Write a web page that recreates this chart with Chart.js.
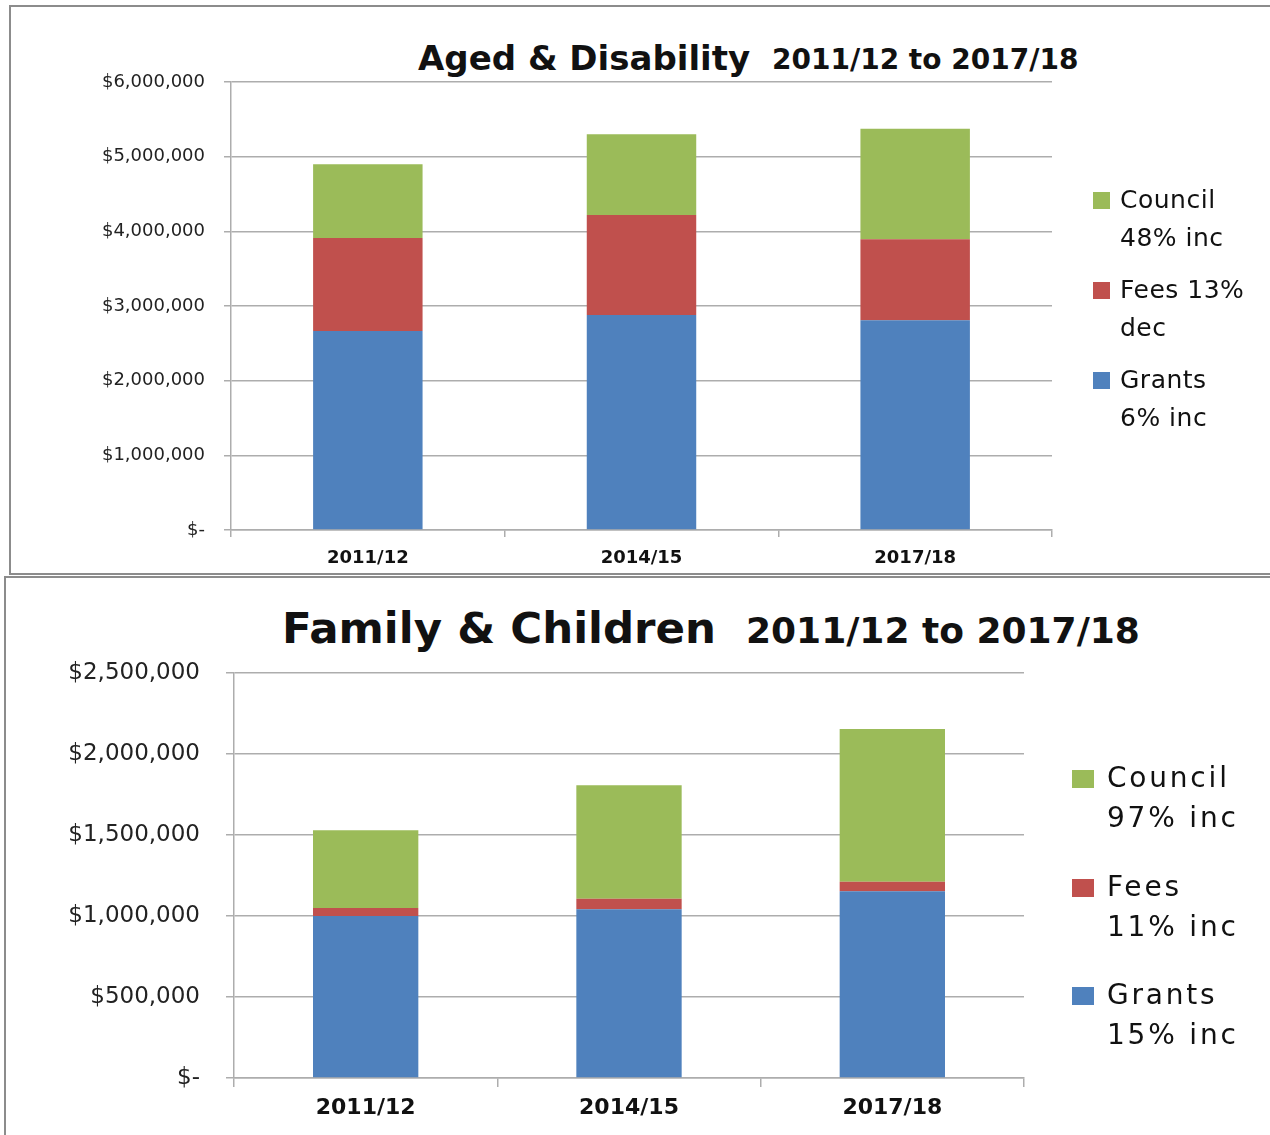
<!DOCTYPE html>
<html>
<head>
<meta charset="utf-8">
<script src="https://cdn.jsdelivr.net/npm/chart.js@4.4.0/dist/chart.umd.min.js"></script>
<style>
  html, body { margin: 0; padding: 0; background: #fff; }
  body { position: relative; width: 1270px; height: 1135px; overflow: hidden; font-family: "DejaVu Sans", sans-serif; color: #111; }
  .panel { position: absolute; border: 2px solid #8c8c8c; box-sizing: border-box; }
  canvas { position: absolute; left: 0; }
  .title { position: absolute; white-space: nowrap; font-weight: bold; line-height: 1; }
  .legend-line { position: absolute; white-space: nowrap; }
  .swatch { position: absolute; }
</style>
</head>
<body>
<div class="panel" style="left:9px; top:5px; width:1290px; height:570px;"></div>
<div class="panel" style="left:4px; top:576px; width:1300px; height:600px;"></div>

<div class="title" style="left:418px; top:41px; font-size:34px;">Aged &amp; Disability</div>
<div class="title" style="left:772px; top:46px; font-size:28px;">2011/12 to 2017/18</div>
<div class="title" style="left:282px; top:607px; font-size:43.5px;">Family &amp; Children</div>
<div class="title" style="left:746px; top:613px; font-size:36px;">2011/12 to 2017/18</div>

<canvas id="topChart" width="1270" height="575" style="top:0px;"></canvas>
<canvas id="bottomChart" width="1270" height="558" style="top:577px;"></canvas>
<div id="topLegend"></div>
<div id="bottomLegend"></div>

<script>
// years on the x axis
const years = ['2011/12', '2014/15', '2017/18'];

// Aged & Disability funding ($)
const agedGrants = [2665000, 2880000, 2810000];
const agedFees = [1245000, 1340000, 1085000];
const agedCouncil = [990000, 1080000, 1480000];
const agedTicks = ['$-', '$1,000,000', '$2,000,000', '$3,000,000', '$4,000,000', '$5,000,000', '$6,000,000'];
const agedLegend = [['Grants', '6% inc'], ['Fees 13%', 'dec'], ['Council', '48% inc']];

// Family & Children funding ($)
const familyGrants = [1000000, 1042000, 1153000];
const familyFees = [50000, 64000, 58000];
const familyCouncil = [480000, 701000, 944000];
const familyTicks = ['$-', '$500,000', '$1,000,000', '$1,500,000', '$2,000,000', '$2,500,000'];
const familyLegend = [['Grants', '15% inc'], ['Fees', '11% inc'], ['Council', '97% inc']];

const seriesNames = ['Grants', 'Fees', 'Council'];
const seriesColors = ['#4F81BD', '#C0504D', '#9BBB59'];

const gridColor = '#adadad';

function makeChart(id, values, opts) {
  return new Chart(document.getElementById(id), {
    type: 'bar',
    data: {
      labels: years,
      datasets: values.map((v, i) => ({
        label: seriesNames[i],
        data: v,
        backgroundColor: seriesColors[i],
        categoryPercentage: 1,
        barPercentage: 0.4
      }))
    },
    options: {
      responsive: false,
      animation: false,
      devicePixelRatio: 1,
      layout: { padding: opts.padding },
      plugins: { legend: { display: false }, title: { display: false }, tooltip: { enabled: false } },
      scales: {
        x: {
          stacked: true,
          afterFit: s => { s.height = opts.xHeight; },
          grid: { drawOnChartArea: false, drawTicks: true, tickLength: opts.xTick, color: gridColor, lineWidth: 1.5, offset: true },
          border: { color: gridColor, width: 1.5 },
          ticks: { color: '#111', padding: opts.xPad, font: { family: 'DejaVu Sans', weight: 'bold', size: opts.xFont } }
        },
        y: {
          stacked: true,
          min: 0,
          max: opts.max,
          afterFit: s => { s.width = opts.yWidth; },
          grid: { color: gridColor, lineWidth: 1.5, tickLength: opts.yTick },
          border: { color: gridColor, width: 1.5 },
          ticks: {
            stepSize: opts.step,
            color: '#222',
            padding: opts.yPad,
            font: { family: 'DejaVu Sans', size: opts.yFont },
            callback: (v, i) => opts.tickLabels[i]
          }
        }
      }
    }
  });
}

makeChart('topChart', [agedGrants, agedFees, agedCouncil], {
  padding: { top: 82, right: 218, bottom: 0, left: 0 },
  max: 6000000, step: 1000000, tickLabels: agedTicks,
  xHeight: 45, yWidth: 231, xTick: 7, yTick: 7, xPad: 11, yPad: 19, xFont: 18, yFont: 18
});

makeChart('bottomChart', [familyGrants, familyFees, familyCouncil], {
  padding: { top: 96, right: 246, bottom: 0, left: 0 },
  max: 2500000, step: 500000, tickLabels: familyTicks,
  xHeight: 57, yWidth: 234, xTick: 9, yTick: 8, xPad: 8, yPad: 26, xFont: 22, yFont: 23
});

// legends drawn as html text, top entry is the top stack segment
function makeLegend(id, labels, o) {
  const box = document.getElementById(id);
  const order = [2, 1, 0];
  order.forEach((si, g) => {
    const top = o.top + g * o.group;
    const sw = document.createElement('div');
    sw.className = 'swatch';
    sw.style.cssText = `left:${o.swX}px; top:${top + o.swDy}px; width:${o.swW}px; height:${o.swH}px; background:${seriesColors[si]};`;
    box.appendChild(sw);
    labels[si].forEach((t, li) => {
      const d = document.createElement('div');
      d.className = 'legend-line';
      d.textContent = t;
      d.style.cssText = `left:${o.textX}px; top:${top + li * o.line}px; font-size:${o.font}px; line-height:${o.line}px; letter-spacing:${o.ls}px;`;
      box.appendChild(d);
    });
  });
}

makeLegend('topLegend', agedLegend, { top: 181, group: 90, line: 38, textX: 1120, font: 25, ls: 0.5, swX: 1093, swDy: 11, swW: 17, swH: 17 });
makeLegend('bottomLegend', familyLegend, { top: 758, group: 108.5, line: 40, textX: 1107, font: 28, ls: 2.8, swX: 1072, swDy: 12, swW: 22, swH: 18 });
</script>
</body>
</html>
